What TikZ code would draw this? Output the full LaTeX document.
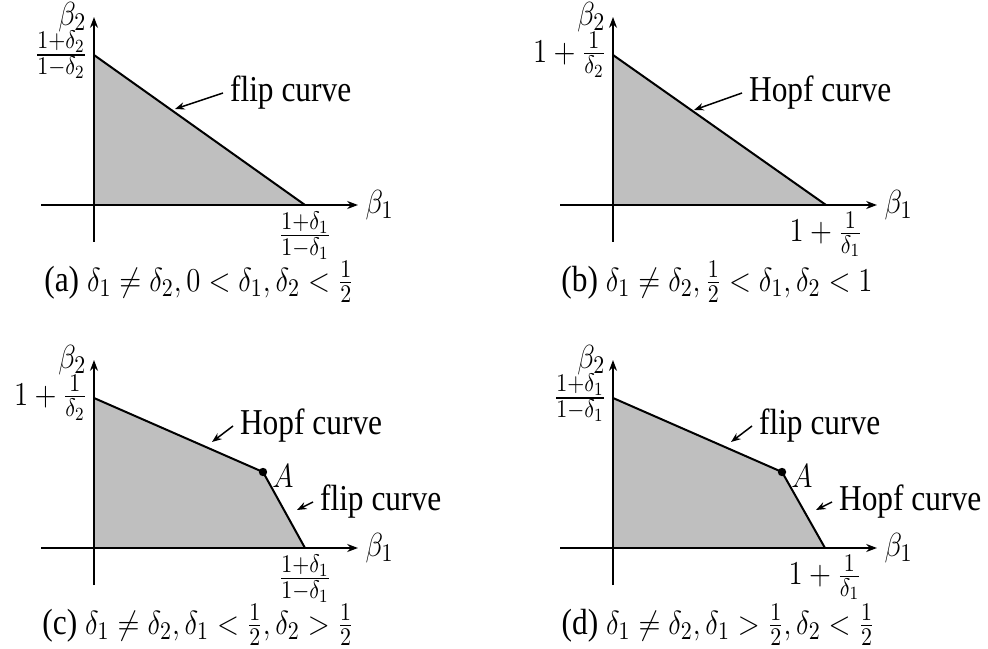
\documentclass[tikz,border=0pt]{standalone}
\usepackage{amsmath,amssymb}
\usepackage{graphicx}
\usepackage{fontspec}
\setmainfont{Liberation Serif}
\usetikzlibrary{arrows.meta}
\newcommand{\tall}[1]{\scalebox{1}[1.16]{#1}}

\begin{document}
\begin{tikzpicture}[
      x=0.5pt, y=0.5pt,
      font=\fontsize{15.7}{19}\selectfont,
      axis/.style={-{Stealth[length=1.9mm, width=1.4mm]}, line width=1pt},
      region/.style={fill=black!25},
      edge/.style={line width=1pt},
      arr/.style={-{Stealth[length=1.7mm, width=1.3mm]}, line width=0.75pt},
      dot/.style={circle, fill=black, inner sep=0pt, minimum size=4.2pt},
      curvelbl/.style={anchor=west}]
    \useasboundingbox (0,0) rectangle (988,648);
    % (a)
    \begin{scope}[shift={(94,443)}]
      \fill[region] (0,0) -- (0,150) -- (211,0) -- cycle;
      \draw[edge] (0,150) -- (211,0);
      \draw[axis] (-53,0) -- (264,0) node[right] (xa) {\tall{$\beta_1$}};
      \draw[axis] (0,-37) -- (0,188) node[left] (ya) {\tall{$\beta_2$}};
      \node[left] (ta) at (0,150) {\tall{$\frac{1+\delta_2}{1-\delta_2}$}};
      \node[below] (ra) at (211,0) {\tall{$\frac{1+\delta_1}{1-\delta_1}$}};
      \node[curvelbl] (fa) at (129,112) {\tall{flip curve}};
      \coordinate (pa) at (81,96);
      \draw[arr] (fa.west) -- (pa);
      \node[anchor=base] (capa) at (105,-86) {\tall{(a) $\delta_1\neq\delta_2, 0<\delta_1,\delta_2<\frac{1}{2}$}};
    \end{scope}
    % (b)
    \begin{scope}[shift={(613,443)}]
      \fill[region] (0,0) -- (0,150) -- (213,0) -- cycle;
      \draw[edge] (0,150) -- (213,0);
      \draw[axis] (-53,0) -- (264,0) node[right] (xb) {\tall{$\beta_1$}};
      \draw[axis] (0,-37) -- (0,188) node[left] (yb) {\tall{$\beta_2$}};
      \node[left] (tb) at (0,150) {\tall{$1+\frac{1}{\delta_2}$}};
      \node[below] (rb) at (213,0) {\tall{$1+\frac{1}{\delta_1}$}};
      \node[curvelbl] (hb) at (129,112) {\tall{Hopf curve}};
      \coordinate (pb) at (81,95);
      \draw[arr] (hb.west) -- (pb);
      \node[anchor=base] (capb) at (104,-86) {\tall{(b) $\delta_1\neq\delta_2, \frac{1}{2}<\delta_1,\delta_2<1$}};
    \end{scope}
    % (c)
    \begin{scope}[shift={(94,100)}]
      \fill[region] (0,0) -- (0,150) -- (169,76) -- (211,0) -- cycle;
      \draw[edge] (0,150) -- (169,76) -- (211,0);
      \draw[axis] (-53,0) -- (264,0) node[right] (xc) {\tall{$\beta_1$}};
      \draw[axis] (0,-37) -- (0,188) node[left] (yc) {\tall{$\beta_2$}};
      \node[left] (tc) at (0,150) {\tall{$1+\frac{1}{\delta_2}$}};
      \node[below] (rc) at (211,0) {\tall{$\frac{1+\delta_1}{1-\delta_1}$}};
      \node[dot] (Ac) at (169,76) {};
      \node[anchor=west, inner sep=1pt] (Alc) at (176,72) {\tall{$A$}};
      \node[curvelbl] (hc) at (139,122) {\tall{Hopf curve}};
      \coordinate (phc) at (118,106);
      \draw[arr] (hc.west) -- (phc);
      \node[curvelbl] (fc) at (219,46) {\tall{flip curve}};
      \coordinate (pfc) at (203,38);
      \draw[arr] (fc.west) -- (pfc);
      \node[anchor=base] (capc) at (104,-86) {\tall{(c) $\delta_1\neq\delta_2, \delta_1<\frac{1}{2},\delta_2>\frac{1}{2}$}};
    \end{scope}
    % (d)
    \begin{scope}[shift={(613,100)}]
      \fill[region] (0,0) -- (0,150) -- (169,76) -- (212,0) -- cycle;
      \draw[edge] (0,150) -- (169,76) -- (212,0);
      \draw[axis] (-53,0) -- (264,0) node[right] (xd) {\tall{$\beta_1$}};
      \draw[axis] (0,-37) -- (0,188) node[left] (yd) {\tall{$\beta_2$}};
      \node[left] (td) at (0,150) {\tall{$\frac{1+\delta_1}{1-\delta_1}$}};
      \node[below] (rd) at (212,0) {\tall{$1+\frac{1}{\delta_1}$}};
      \node[dot] (Ad) at (169,76) {};
      \node[anchor=west, inner sep=1pt] (Ald) at (176,72) {\tall{$A$}};
      \node[curvelbl] (fd) at (139,122) {\tall{flip curve}};
      \coordinate (pfd) at (118,106);
      \draw[arr] (fd.west) -- (pfd);
      \node[curvelbl] (hd) at (219,46) {\tall{Hopf curve}};
      \coordinate (phd) at (203,38);
      \draw[arr] (hd.west) -- (phd);
      \node[anchor=base] (capd) at (105,-86) {\tall{(d) $\delta_1\neq\delta_2, \delta_1>\frac{1}{2},\delta_2<\frac{1}{2}$}};
    \end{scope}
  \end{tikzpicture}
\end{document}
